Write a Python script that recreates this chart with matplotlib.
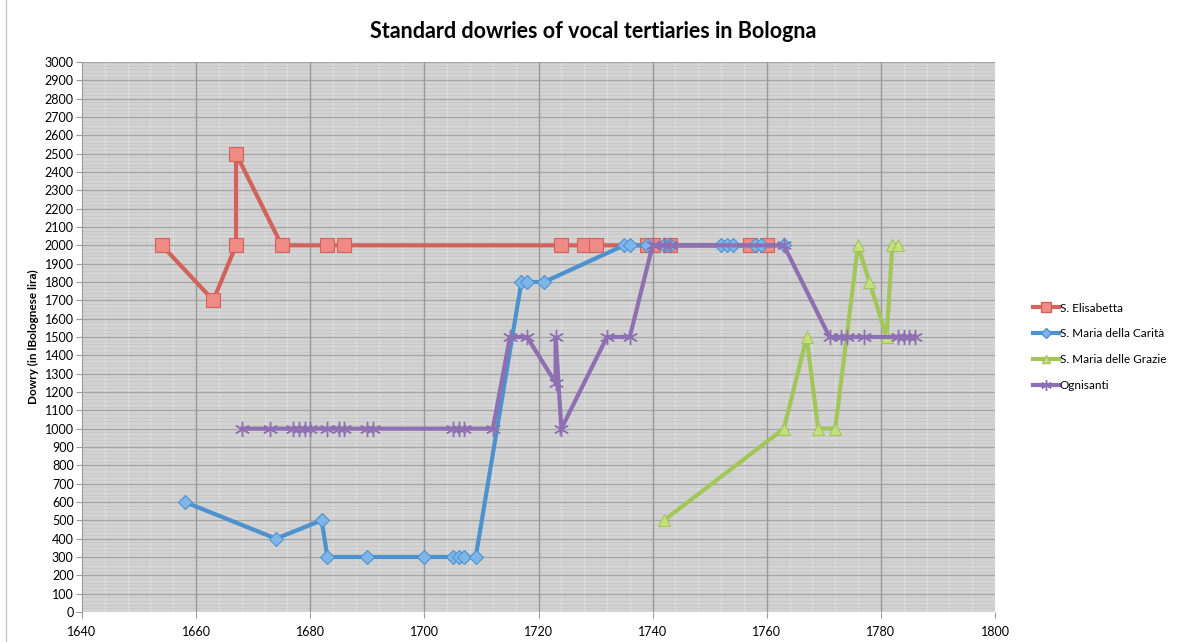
import numpy as np
import matplotlib
matplotlib.use("Agg")
import matplotlib.pyplot as plt
from matplotlib.lines import Line2D
from matplotlib.ticker import MultipleLocator

plt.rcParams['font.family'] = ['Lato', 'DejaVu Sans']

# S. Elisabetta
elis_year = [1654, 1663, 1667, 1667, 1675, 1683, 1686, 1724, 1728, 1730,
             1739, 1740, 1743, 1757, 1760]
elis_dowry = [2000, 1700, 2000, 2500, 2000, 2000, 2000, 2000, 2000, 2000,
              2000, 2000, 2000, 2000, 2000]

# S. Maria della Carità
carita_year = [1658, 1674, 1682, 1683, 1690, 1700, 1705, 1706, 1707, 1709,
               1717, 1718, 1721, 1735, 1736, 1739, 1742, 1743, 1752, 1753,
               1754, 1758, 1759, 1763]
carita_dowry = [600, 400, 500, 300, 300, 300, 300, 300, 300, 300,
                1800, 1800, 1800, 2000, 2000, 2000, 2000, 2000, 2000, 2000,
                2000, 2000, 2000, 2000]

# S. Maria delle Grazie
grazie_year = [1742, 1763, 1767, 1769, 1772, 1776, 1778, 1781, 1782, 1783]
grazie_dowry = [500, 1000, 1500, 1000, 1000, 2000, 1800, 1500, 2000, 2000]

# Ognisanti
ogni_year = [1668, 1673, 1677, 1678, 1679, 1680, 1683, 1685, 1686, 1690,
             1691, 1705, 1706, 1707, 1712, 1715, 1718, 1723, 1723, 1724,
             1732, 1736, 1740, 1742, 1743, 1763, 1771, 1773, 1774, 1777,
             1783, 1784, 1785, 1786]
ogni_dowry = [1000, 1000, 1000, 1000, 1000, 1000, 1000, 1000, 1000, 1000,
              1000, 1000, 1000, 1000, 1000, 1500, 1500, 1250, 1500, 1000,
              1500, 1500, 2000, 2000, 2000, 2000, 1500, 1500, 1500, 1500,
              1500, 1500, 1500, 1500]

series = [
    ("S. Elisabetta", elis_year, elis_dowry, "#D2625B", "#F08A84", "s", 10),
    ("S. Maria della Carità", carita_year, carita_dowry, "#4D92CE", "#7FB6EA", "D", 7),
    ("S. Maria delle Grazie", grazie_year, grazie_dowry, "#A2C65A", "#C4E07E", "^", 9),
    ("Ognisanti", ogni_year, ogni_dowry, "#8E70B2", "#8E70B2", (6, 2, 0), 11),
]

fig = plt.figure(figsize=(11.78, 6.42), dpi=100)
ax = fig.add_axes([82 / 1178, 1 - 612 / 642, 913 / 1178, 550 / 642])
ax.set_facecolor("#D3D3D3")

ax.set_xlim(1640, 1800)
ax.set_ylim(0, 3000)
ax.xaxis.set_major_locator(MultipleLocator(20))
ax.xaxis.set_minor_locator(MultipleLocator(4))
ax.yaxis.set_major_locator(MultipleLocator(100))
ax.yaxis.set_minor_locator(MultipleLocator(20))

# minor grid (light), major grid drawn on top of it
ax.grid(which="minor", axis="y", color="#C6C6C6", linewidth=0.5)
ax.grid(which="minor", axis="x", color="#E2E2E2", linewidth=0.8)
ax.set_axisbelow(True)
for yv in np.arange(100, 3001, 100):
    ax.axhline(yv, color="#A6A6A6", linewidth=1.0, zorder=0.8)
for xv in np.arange(1660, 1800, 20):
    ax.axvline(xv, color="#999999", linewidth=1.0, zorder=0.9)

for name, xs, ys, col, face, mk, ms in series:
    if isinstance(mk, tuple):
        ax.plot(xs, ys, color=col, linewidth=3, marker=mk, markersize=ms,
                markeredgecolor=col, markeredgewidth=1.0, label=name,
                solid_joinstyle="miter", clip_on=False, zorder=3)
    else:
        ax.plot(xs, ys, color=col, linewidth=3, marker=mk, markersize=ms,
                markerfacecolor=face, markeredgecolor=col, markeredgewidth=0.8,
                label=name, clip_on=False, zorder=3)

for side in ["top", "right", "bottom"]:
    ax.spines[side].set_visible(False)
ax.spines["left"].set_color("#9A9A9A")
ax.tick_params(which="minor", length=0)
ax.tick_params(axis="y", which="major", length=4, color="#9A9A9A", labelsize=9, pad=2)
ax.tick_params(axis="x", which="major", length=4, color="#9A9A9A", labelsize=9, pad=6)

ax.set_ylabel("Dowry (in lBolognese lira)", fontsize=8.5, fontweight="bold", labelpad=4)
fig.suptitle("Standard dowries of vocal tertiaries in Bologna", x=593 / 1178, y=1 - 32 / 642,
             fontsize=15.5, fontweight="bold", va="center")

handles = [Line2D([], [], color=s[3], linewidth=3, marker=s[5], markersize=s[6] * 0.7,
                  markerfacecolor=s[4], markeredgecolor=s[3]) for s in series]
leg = fig.legend(handles, [s[0] for s in series], loc="upper left",
                 bbox_to_anchor=(1022 / 1178, 1 - 292 / 642), frameon=False,
                 fontsize=8.5, handlelength=2.2, handletextpad=0.1, labelspacing=1.25)

fig.add_artist(Line2D([6 / 1178, 6 / 1178], [0, 1], color="#C8C8C8", linewidth=1))

fig.savefig("out.png", dpi=100)
